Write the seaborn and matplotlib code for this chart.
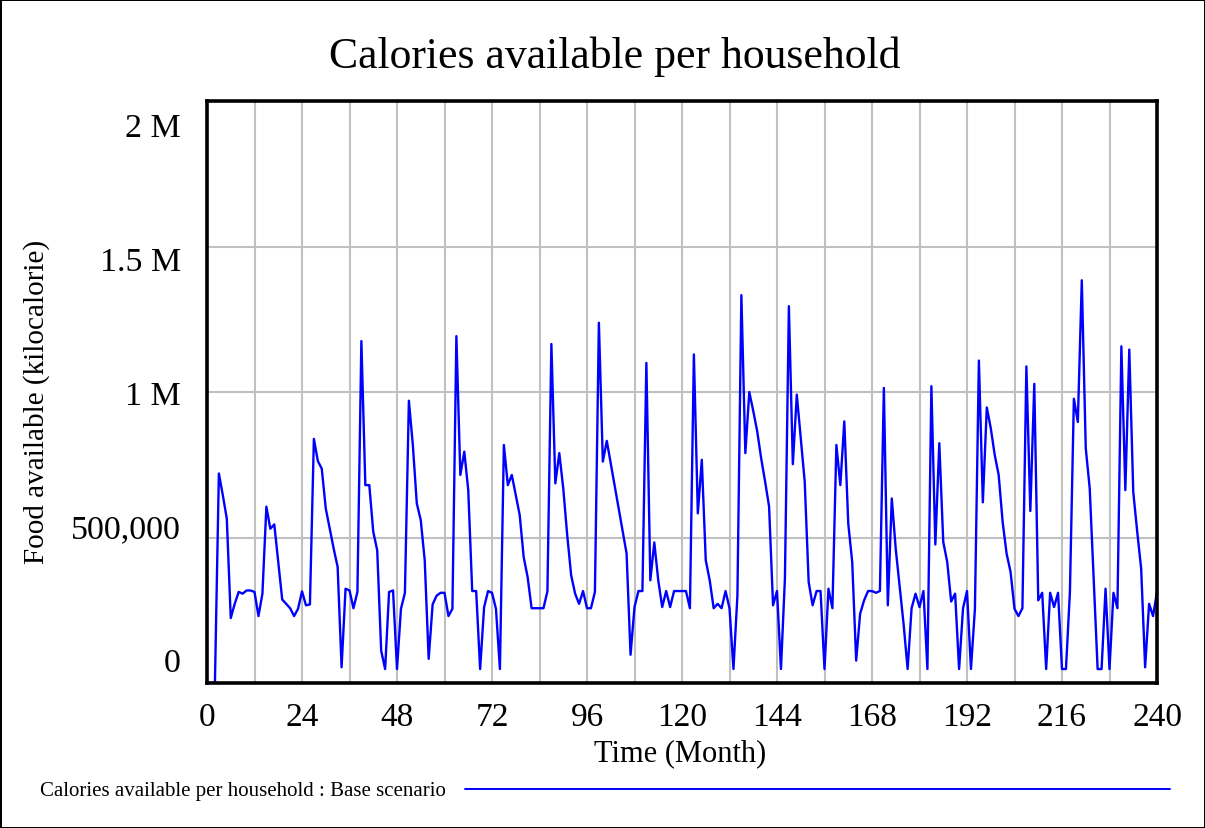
'''
Calories available per household, base scenario (Vensim style chart).
'''
import numpy as np
import pandas as pd
import matplotlib
matplotlib.use('Agg')
import matplotlib.pyplot as plt
from matplotlib.lines import Line2D
import seaborn as sns

# Monthly values, in thousands of kilocalories, months 0..240.
calories_k = [
  0, 0, 0, 720, 645, 565, 223, 272, 313, 307, 318, 318,          # 0-11
  313, 230, 307, 606, 530, 545, 416, 287, 272, 257, 230, 255,    # 12-23
  315, 267, 270, 839, 763, 736, 600, 531, 462, 399, 54, 324,     # 24-35
  318, 257, 313, 1175, 680, 680, 520, 456, 111, 48, 313, 318,    # 36-47
  48, 255, 310, 970, 818, 617, 560, 422, 83, 270, 300, 310,      # 48-59
  310, 230, 255, 1192, 715, 795, 663, 316, 316, 48, 260, 316,    # 60-71
  310, 255, 48, 818, 680, 715, 646, 577, 433, 364, 257, 257,     # 72-83
  257, 257, 315, 1165, 686, 790, 669, 508, 370, 307, 272, 316,   # 84-95
  257, 257, 313, 1238, 761, 832, 755, 677, 600, 522, 445, 97,    # 96-107
  261, 316, 316, 1100, 353, 483, 353, 261, 316, 261, 316, 316,   # 108-119
  316, 316, 257, 1129, 583, 767, 422, 353, 257, 272, 257, 316,   # 120-131
  257, 48, 301, 1333, 790, 1000, 935, 865, 772, 692, 606, 267,   # 132-143
  316, 48, 359, 1295, 752, 991, 841, 692, 347, 267, 316, 316,    # 144-155
  48, 324, 257, 818, 680, 899, 548, 416, 77, 238, 284, 316,      # 156-167
  316, 310, 316, 1014, 267, 634, 460, 330, 200, 48, 257, 307,    # 168-179
  261, 316, 48, 1020, 476, 824, 485, 416, 280, 307, 48, 257,     # 180-191
  316, 48, 255, 1108, 621, 947, 876, 784, 715, 554, 445, 382,    # 192-203
  255, 230, 257, 1088, 591, 1028, 284, 310, 48, 310, 261, 310,   # 204-215
  48, 48, 313, 977, 897, 1384, 807, 669, 360, 48, 48, 324,       # 216-227
  48, 310, 257, 1157, 663, 1146, 657, 520, 393, 54, 272, 230,    # 228-239
  313,                                                           # 240
]
months = np.arange(len(calories_k))

y_ticks = [0, 500000, 1000000, 1500000, 2000000]
y_tick_labels = ['0', '500,000', '1 M', '1.5 M', '2 M']

title = 'Calories available per household'
legend_label = 'Calories available per household : Base scenario'

df = pd.DataFrame({'month': months, 'calories': np.array(calories_k) * 1000.0})

# Figure setup.
sns.set_style('white')
plt.rcParams['font.family'] = ['Liberation Serif', 'DejaVu Serif']
plt.rcParams['text.color'] = 'black'
plt.rcParams['xtick.color'] = 'black'
plt.rcParams['ytick.color'] = 'black'
W, H = 1205, 829
fig = plt.figure(figsize=(W / 100, H / 100), dpi=100,
                 edgecolor='black', linewidth=2)
ax = fig.add_axes([207 / W, 1 - 684 / H, 950 / W, 582 / H])

# Grid.
ax.set_xticks(range(0, 241, 12))
ax.set_yticks(y_ticks)
ax.grid(True, color='#c0c0c0', linewidth=1.5)
ax.set_axisbelow(True)

# Line.
sns.lineplot(data=df, x='month', y='calories', ax=ax, color='#0000ff',
             linewidth=1.7, legend=False)

ax.set_xlim(0, 240)
ax.set_ylim(0, 2000000)
for s in ax.spines.values():
  s.set_linewidth(2.6)
  s.set_color('black')

# X tick labels every 24 months.
ax.set_xticklabels([str(m) if m % 24 == 0 else '' for m in range(0, 241, 12)],
                   fontsize=24, color='black')
ax.tick_params(axis='x', length=0, pad=13)
ax.set_yticklabels([])
ax.tick_params(axis='y', length=0)
ax.set_xlabel('')
ax.set_ylabel('')

# Y tick labels (Vensim spreads them a bit differently than the grid).
for v, lab in zip(y_ticks, y_tick_labels):
  py = 664 - (v / 2000000.0) * (664 - 129)
  fig.text(181 / W, 1 - py / H, lab, ha='right', va='center', fontsize=24.5)

# Titles and labels.
fig.text(615 / W, 1 - 57 / H, title, ha='center', va='center', fontsize=31.5)
fig.text(680 / W, 1 - 754 / H, 'Time (Month)', ha='center', va='center',
         fontsize=22)
fig.text(37 / W, 1 - 402 / H, 'Food available (kilocalorie)', ha='center',
         va='center', rotation=90, fontsize=21)

# Legend row.
fig.text(40 / W, 1 - 792 / H, legend_label, ha='left', va='center', fontsize=15)
fig.add_artist(Line2D([465 / W, 1170 / W], [1 - 790 / H, 1 - 790 / H],
                      transform=fig.transFigure, color='#0000ff', linewidth=1.4))

fig.savefig('out.png', dpi=100, edgecolor=fig.get_edgecolor())
